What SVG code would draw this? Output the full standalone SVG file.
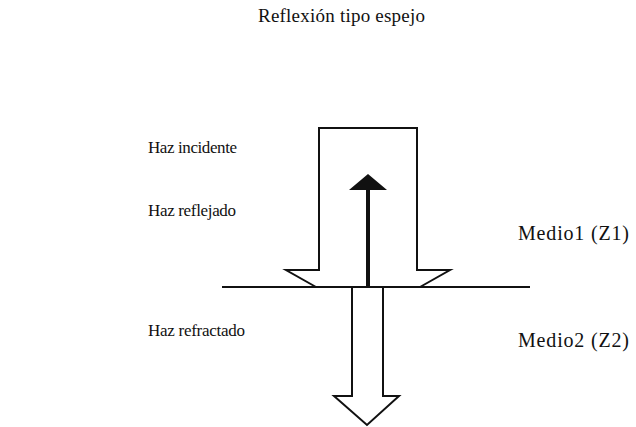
<svg xmlns="http://www.w3.org/2000/svg" width="636" height="427" viewBox="0 0 636 427">
<style>
text{font-family:"Liberation Serif","Times New Roman",serif;font-size:17px;fill:#111}
.big{font-size:20px}
.t{font-size:19px}
.o{fill:none;stroke:#111;stroke-width:2;stroke-linejoin:miter}
</style>
<rect width="636" height="427" fill="#fff"/>
<g id="title"><text class="t" x="258" y="22" textLength="167">Reflexión tipo espejo</text></g>
<g id="lbl-incidente"><text x="148" y="153" textLength="89">Haz incidente</text></g>
<g id="lbl-reflejado"><text x="148" y="216" textLength="88">Haz reflejado</text></g>
<g id="lbl-refractado"><text x="148" y="336" textLength="97">Haz refractado</text></g>
<g id="lbl-medio1"><text class="big" x="518" y="240" textLength="111">Medio1 (Z1)</text></g>
<g id="lbl-medio2"><text class="big" x="518" y="347" textLength="111">Medio2 (Z2)</text></g>
<g id="interface"><line x1="222" y1="287" x2="530" y2="287" stroke="#111" stroke-width="2"/></g>
<g id="incidente"><path class="o" d="M316,287 L286,270 L319,270 L319,128 L417,128 L417,270 L450,270 L420,287"/></g>
<g id="reflejado"><line x1="368" y1="287" x2="368" y2="189" stroke="#111" stroke-width="4"/><polygon points="349,190 387,190 368,174" fill="#111"/></g>
<g id="refractado"><path class="o" d="M352,287 L352,396 L334,396 L367,425 L399,396 L383,396 L383,287"/></g>
</svg>
